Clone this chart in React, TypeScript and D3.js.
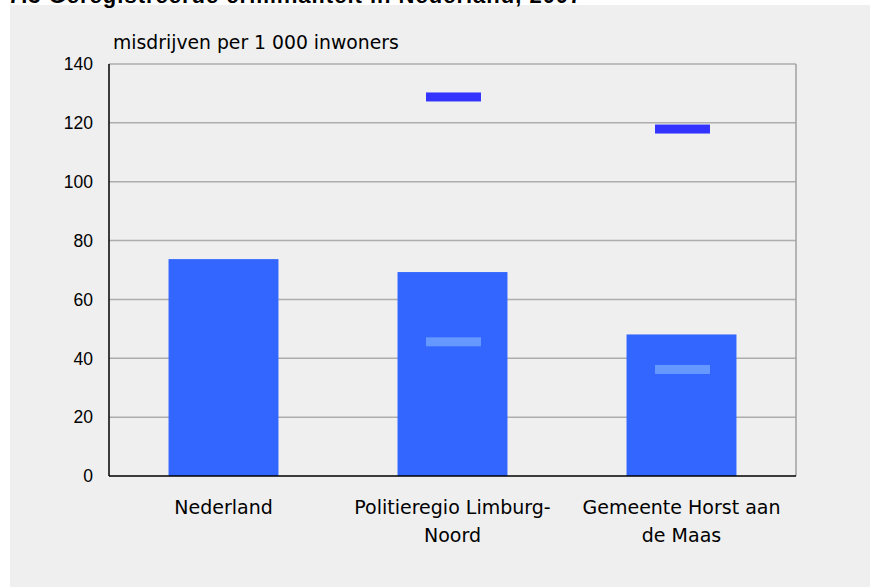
import { useEffect, useRef } from "react"
import * as d3 from "d3"

const categories = ["Nederland", "Politieregio Limburg-\nNoord", "Gemeente Horst aan\nde Maas"]
const barValues = [73.7, 69.3, 48.1]
const highMarks = [null, 128.8, 117.9]
const lowMarks = [null, 45.6, 36.2]
const yTicks = [0, 20, 40, 60, 80, 100, 120, 140]

const W = 870
const H = 587
const margin = { top: 64, right: 74, bottom: 111, left: 109 }
const font = "Liberation Sans, Arial, sans-serif"
const wideFont = "DejaVu Sans, sans-serif"

const App = () => {
  const svgRef = useRef<SVGSVGElement>(null)

  useEffect(() => {
    const svg = d3.select(svgRef.current)
    svg.selectAll("*").remove()

    // page background
    svg.append("rect").attr("width", W).attr("height", H).attr("fill", "#fff")
    svg.append("rect")
      .attr("x", 10).attr("y", 5)
      .attr("width", W - 10).attr("height", H - 5)
      .attr("fill", "#efefef")

    // title, clipped at top of the frame
    svg.append("text")
      .attr("x", 8).attr("y", 3)
      .attr("font-family", font)
      .attr("font-weight", "bold")
      .attr("font-size", 22)
      .attr("letter-spacing", 1)
      .attr("fill", "#000")
      .text("7.3 Geregistreerde criminaliteit in Nederland, 2007")

    const x = d3.scaleBand()
      .domain(categories)
      .range([margin.left, W - margin.right])
      .paddingInner(0.52)
      .paddingOuter(0.26)

    const y = d3.scaleLinear()
      .domain([0, 140])
      .range([H - margin.bottom, margin.top])

    // gridlines
    svg.append("g")
      .selectAll("line")
      .data(yTicks.filter(t => t > 0))
      .join("line")
        .attr("x1", margin.left)
        .attr("x2", W - margin.right)
        .attr("y1", d => y(d))
        .attr("y2", d => y(d))
        .attr("stroke", "#adadad")
        .attr("stroke-width", 1.5)

    // right border
    svg.append("line")
      .attr("x1", W - margin.right).attr("x2", W - margin.right)
      .attr("y1", y(140)).attr("y2", y(0))
      .attr("stroke", "#a0a0a0")
      .attr("stroke-width", 1.5)

    // bars
    svg.append("g")
      .selectAll("rect")
      .data(barValues)
      .join("rect")
        .attr("x", (_, i) => x(categories[i])!)
        .attr("y", d => y(d))
        .attr("width", x.bandwidth())
        .attr("height", d => y(0) - y(d))
        .attr("fill", "#3366ff")

    // markers
    const markW = x.bandwidth() / 2
    const drawMarks = (vals: (number | null)[], color: string) => {
      svg.append("g")
        .selectAll("rect")
        .data(vals.map((v, i) => ({ v, c: categories[i] })).filter(d => d.v != null))
        .join("rect")
          .attr("x", d => x(d.c)! + x.bandwidth() / 2 - markW / 2 + 1)
          .attr("y", d => y(d.v as number) - 4.5)
          .attr("width", markW)
          .attr("height", 9)
          .attr("fill", color)
    }
    drawMarks(highMarks, "#3333ff")
    drawMarks(lowMarks, "#6699ff")

    // axes lines
    svg.append("line")
      .attr("x1", margin.left).attr("x2", margin.left)
      .attr("y1", y(140)).attr("y2", y(0))
      .attr("stroke", "#000").attr("stroke-width", 1.5)
    svg.append("line")
      .attr("x1", margin.left).attr("x2", W - margin.right)
      .attr("y1", y(0)).attr("y2", y(0))
      .attr("stroke", "#000").attr("stroke-width", 1.5)

    // y tick labels
    svg.append("g")
      .attr("text-anchor", "end")
      .attr("font-family", font)
      .attr("font-size", 17.5)
      .selectAll("text")
      .data(yTicks)
      .join("text")
        .attr("x", margin.left - 16)
        .attr("y", d => y(d))
        .attr("dy", "0.36em")
        .text(d => d)

    // y axis title
    svg.append("text")
      .attr("x", 113).attr("y", 49)
      .attr("font-family", wideFont)
      .attr("font-size", 18.8)
      .text("misdrijven per 1 000 inwoners")

    // category labels
    svg.append("g")
      .attr("text-anchor", "middle")
      .attr("font-family", wideFont)
      .attr("font-size", 19)
      .selectAll("text")
      .data(categories)
      .join("text")
        .attr("x", d => x(d)! + x.bandwidth() / 2)
        .attr("y", 514)
        .each(function (d) {
          const t = d3.select(this)
          d.split("\n").forEach((line, i) => {
            t.append("tspan")
              .attr("x", x(d)! + x.bandwidth() / 2)
              .attr("dy", i === 0 ? 0 : 28)
              .text(line)
          })
        })
  }, [])

  return (
    <svg
      ref={svgRef}
      width={W}
      height={H}
      style={{ position: "absolute", left: 0, top: 0, display: "block" }}
    />
  )
}

export default App
